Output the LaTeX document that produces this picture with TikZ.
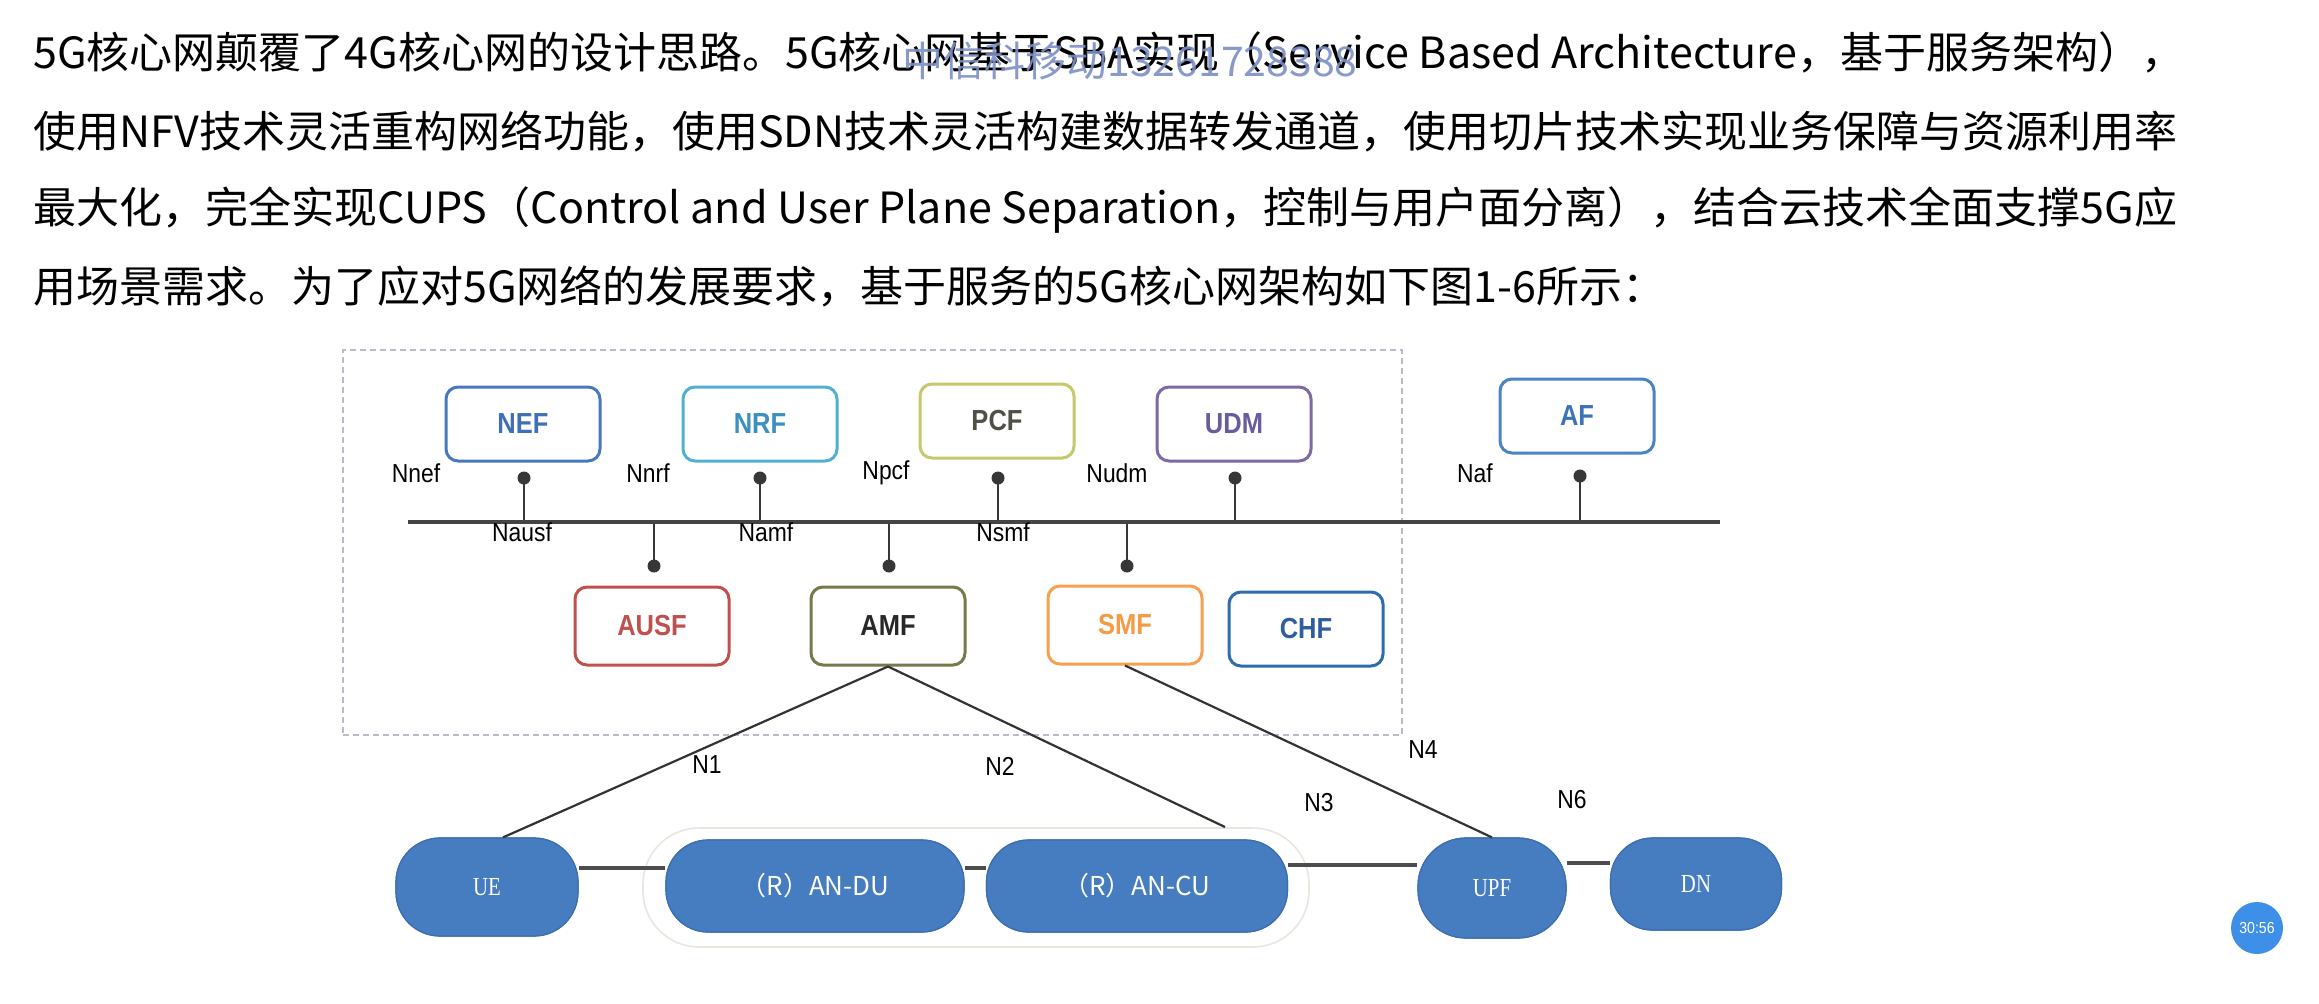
\documentclass[tikz,border=0pt]{standalone}
\usepackage{fontspec}
\setmainfont{Liberation Sans}
\newfontfamily\cjk{Noto Sans CJK SC}
\newfontfamily\lab[FakeStretch=0.88]{Liberation Sans}
\newfontfamily\serifn[FakeStretch=0.8]{Liberation Serif}
\definecolor{nefc}{RGB}{74,120,190}
\definecolor{neft}{RGB}{63,111,181}
\definecolor{nrfc}{RGB}{80,176,207}
\definecolor{nrft}{RGB}{60,143,191}
\definecolor{pcfc}{RGB}{197,201,106}
\definecolor{pcft}{RGB}{80,80,70}
\definecolor{udmc}{RGB}{127,104,166}
\definecolor{udmt}{RGB}{106,91,158}
\definecolor{afc}{RGB}{74,132,196}
\definecolor{aft}{RGB}{61,116,183}
\definecolor{ausfc}{RGB}{192,80,77}
\definecolor{amfc}{RGB}{119,121,74}
\definecolor{amft}{RGB}{40,40,40}
\definecolor{smfc}{RGB}{247,160,80}
\definecolor{smft}{RGB}{245,154,69}
\definecolor{chfc}{RGB}{47,107,176}
\definecolor{chft}{RGB}{47,94,158}
\definecolor{blobc}{RGB}{70,124,192}
\definecolor{blobd}{RGB}{60,110,175}
\definecolor{dotc}{RGB}{55,55,55}
\definecolor{busc}{RGB}{68,68,68}
\definecolor{dashc}{RGB}{185,188,200}
\definecolor{grpc}{RGB}{232,230,222}
\definecolor{wmc}{RGB}{125,143,196}
\definecolor{bubc}{RGB}{62,143,232}
\begin{document}
\begin{tikzpicture}[x=0.5pt,y=-0.5pt,
  body/.style={anchor=base west, inner sep=0, font=\cjk\fontsize{21.5pt}{21.5pt}\selectfont},
  nf/.style={draw, line width=1.5pt, rounded corners=6pt, minimum width=77pt, minimum height=37pt, inner sep=0, fill=white, font=\lab\bfseries\fontsize{14.5pt}{14.5pt}\selectfont},
  dotnode/.style={circle, fill=dotc, inner sep=0, minimum size=6.5pt},
  pin/.style={draw=dotc, line width=1.4pt},
  bus/.style={draw=busc, line width=2.4pt},
  lbl/.style={inner sep=0, font=\lab\fontsize{13pt}{13pt}\selectfont},
  link/.style={draw=black!80, line width=1.1pt},
  hlink/.style={draw=black!70, line width=1.6pt},
  blob/.style={fill=blobc, draw=blobd, line width=0.6pt, inner sep=0, text=white},
  blobtxt/.style={font=\cjk\fontsize{13pt}{13pt}\selectfont},
  blobser/.style={font=\serifn\fontsize{13pt}{13pt}\selectfont}
]
\useasboundingbox[fill=white] (0,0) rectangle (2319,1003);

% paragraph
\node[body] (l1) at (33,68) {5G核心网颠覆了4G核心网的设计思路。5G核心网基于SBA实现（Service Based Architecture，基于服务架构），};
\node[body] (l2) at (33,147) {使用NFV技术灵活重构网络功能，使用SDN技术灵活构建数据转发通道，使用切片技术实现业务保障与资源利用率};
\node[body] (l3) at (33,223) {最大化，完全实现CUPS（Control and User Plane Separation，控制与用户面分离），结合云技术全面支撑5G应};
\node[body] (l4) at (33,302) {用场景需求。为了应对5G网络的发展要求，基于服务的5G核心网架构如下图1-6所示：};
% watermark
\node[anchor=west, inner sep=0, text=wmc, opacity=0.9, font=\cjk\fontsize{20.5pt}{20.5pt}\selectfont] (wm) at (902,61) {中信科移动13261728388};

% dashed core box
\node[draw=dashc, dashed, dash pattern=on 3pt off 2pt, line width=0.75pt, minimum width=529.5pt, minimum height=192.5pt, inner sep=0] (core) at (872.5,542.5) {};

% bus
\coordinate (busL) at (408,522);
\coordinate (busR) at (1720,522);

% top NFs
\node[nf, draw=nefc, text=neft] (nef) at (523,424) {NEF};
\node[nf, draw=nrfc, text=nrft] (nrf) at (760,424) {NRF};
\node[nf, draw=pcfc, text=pcft] (pcf) at (997,421) {PCF};
\node[nf, draw=udmc, text=udmt] (udm) at (1234,424) {UDM};
\node[nf, draw=afc, text=aft] (af) at (1577,416) {AF};

% top pins
\node[dotnode] (dnef) at (524,478) {};
\node[dotnode] (dnrf) at (760,478) {};
\node[dotnode] (dpcf) at (998,478) {};
\node[dotnode] (dudm) at (1235,478) {};
\node[dotnode] (daf) at (1580,476) {};
\foreach \d in {dnef,dnrf,dpcf,dudm,daf} \draw[pin] (\d.center) -- (\d |- busL);

% lower NFs
\node[nf, draw=ausfc, text=ausfc, minimum height=39pt] (ausf) at (652,626) {AUSF};
\node[nf, draw=amfc, text=amft, minimum height=39pt] (amf) at (888,626) {AMF};
\node[nf, draw=smfc, text=smft, minimum height=39pt] (smf) at (1125,625) {SMF};
\node[nf, draw=chfc, text=chft, minimum height=37pt] (chf) at (1306,629) {CHF};

% lower pins
\node[dotnode] (dausf) at (654,566) {};
\node[dotnode] (damf) at (889,566) {};
\node[dotnode] (dsmf) at (1127,566) {};
\foreach \d in {dausf,damf,dsmf} \draw[pin] (\d.center) -- (\d |- busL);

\draw[bus] (busL) -- (busR);

% service interface labels
\node[lbl] (lnnef) at (416,473) {Nnef};
\node[lbl] (lnnrf) at (648,473) {Nnrf};
\node[lbl] (lnpcf) at (886,473) {Npcf};
\node[lbl] (lnudm) at (1117,473) {Nudm};
\node[lbl] (lnaf) at (1475,473) {Naf};
\node[lbl] (lnausf) at (522,532) {Nausf};
\node[lbl] (lnamf) at (766,532) {Namf};
\node[lbl] (lnsmf) at (1003,532) {Nsmf};

% access / user plane
\node[draw=grpc, line width=0.8pt, rounded corners=28pt, minimum width=333pt, minimum height=59.5pt, inner sep=0] (grp) at (976,887.5) {};
\coordinate (n2end) at (1225,827);

\node[blob, rounded corners=22pt, minimum width=91pt, minimum height=49pt] (ue) at (487,887) {};
\node[blob, rounded corners=21pt, minimum width=149pt, minimum height=46pt] (andu) at (815,886) {};
\node[blob, rounded corners=21pt, minimum width=150.5pt, minimum height=46pt] (ancu) at (1137,886) {};
\node[blob, rounded corners=24pt, minimum width=74pt, minimum height=50pt] (upf) at (1492,888) {};
\node[blob, rounded corners=21pt, minimum width=85.5pt, minimum height=46pt] (dn) at (1696,884) {};

\draw[hlink] ([yshift=9.5pt]ue.east) -- ([yshift=9pt]andu.west);
\draw[hlink] ([yshift=9pt]andu.east) -- ([yshift=9pt]ancu.west);
\draw[hlink] ([yshift=10.5pt]ancu.east) -- ([yshift=11.5pt]upf.west);
\draw[hlink] ([yshift=12.5pt]upf.east) -- ([yshift=10.5pt]dn.west);

\node[blob, rounded corners=22pt, minimum width=91pt, minimum height=49pt, blobser] at (ue) {UE};
\node[blob, rounded corners=21pt, minimum width=149pt, minimum height=46pt, blobtxt] at (andu) {（R）AN-DU};
\node[blob, rounded corners=21pt, minimum width=150.5pt, minimum height=46pt, blobtxt] at (ancu) {（R）AN-CU};
\node[blob, rounded corners=24pt, minimum width=74pt, minimum height=50pt, blobser] at (upf) {UPF};
\node[blob, rounded corners=21pt, minimum width=85.5pt, minimum height=46pt, blobser] at (dn) {DN};

\draw[link] (amf.south) -- ([xshift=8pt]ue.north);
\draw[link] (amf.south) -- (n2end);
\draw[link] (smf.south) -- (upf.north);

\node[lbl] (ln1) at (707,765) {N1};
\node[lbl] (ln2) at (1000,766) {N2};
\node[lbl] (ln3) at (1319,803) {N3};
\node[lbl] (ln4) at (1423,750) {N4};
\node[lbl] (ln6) at (1572,800) {N6};

% time badge
\node[circle, fill=bubc, inner sep=0, minimum size=26pt, text=white, font=\lab\fontsize{8pt}{8pt}\selectfont] (badge) at (2257,928) {30:56};
\end{tikzpicture}
\end{document}
